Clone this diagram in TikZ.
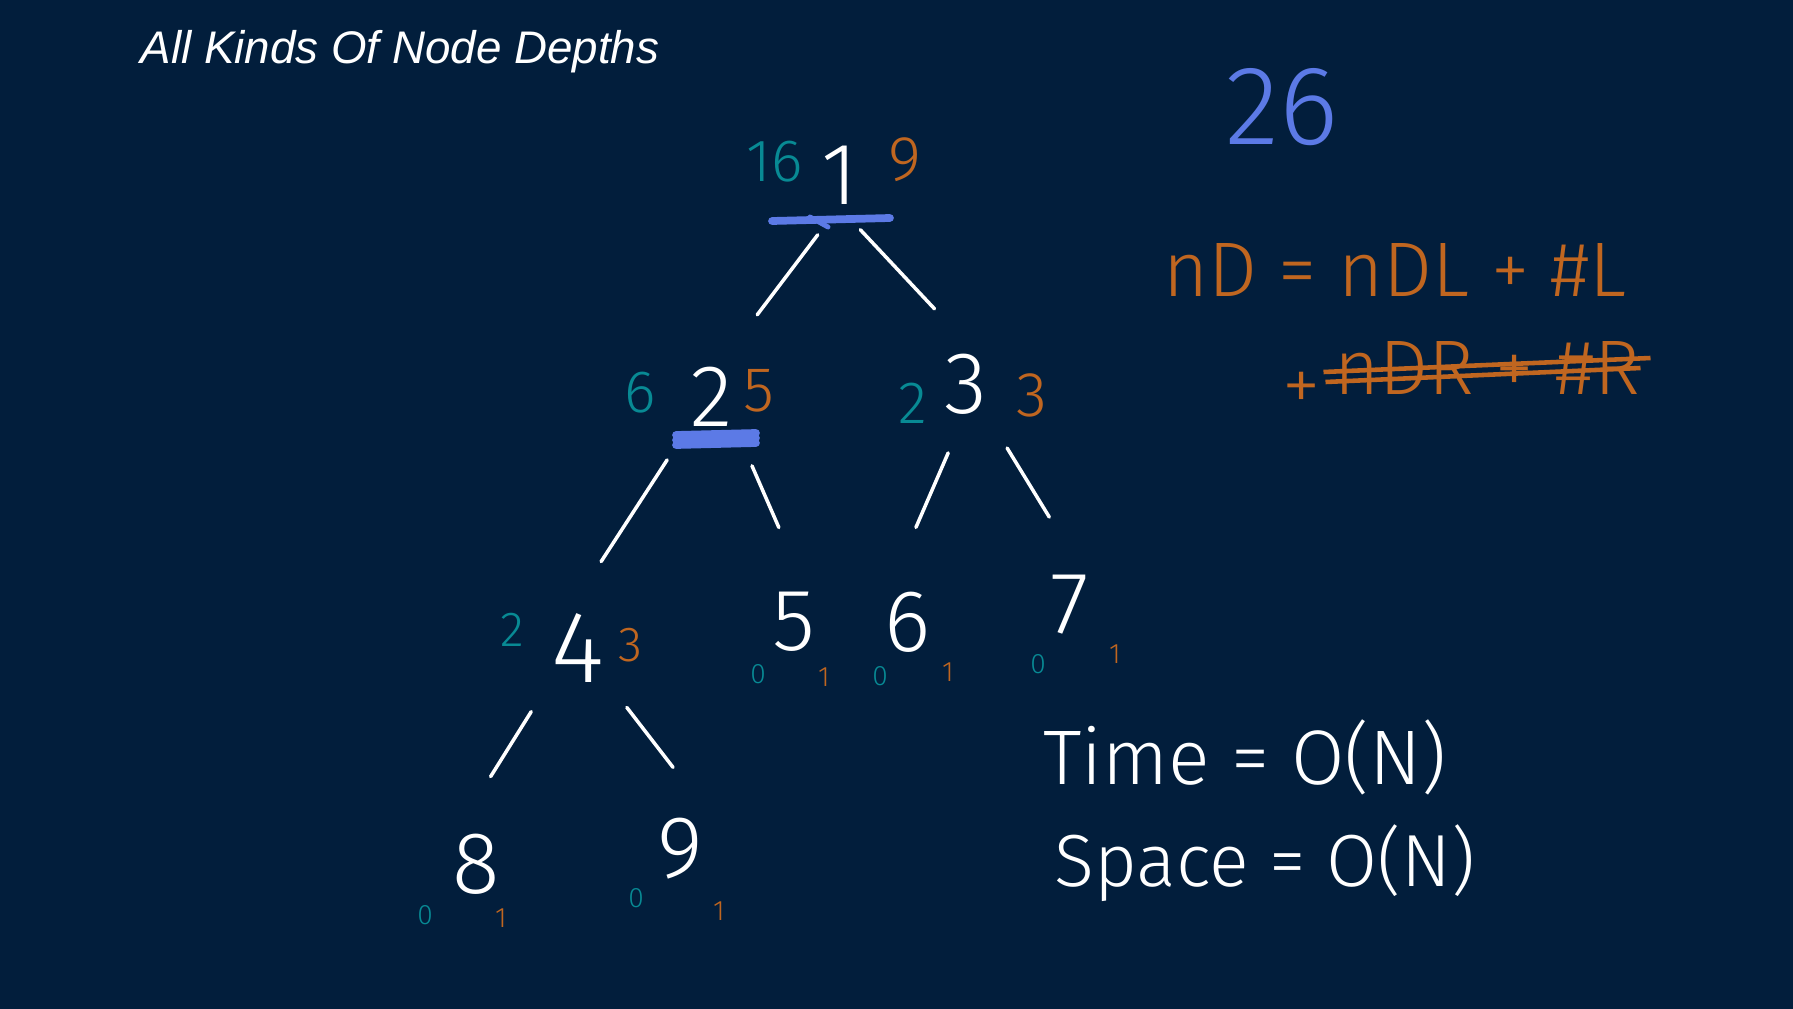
\documentclass[tikz,border=0pt]{standalone}
\usepackage{fontspec}
\setmainfont{Liberation Sans}
\newfontfamily\handfont{Fira Sans Light}
\usepackage{tikz}
\definecolor{board}{RGB}{2,30,60}
\definecolor{depthteal}{RGB}{8,138,148}
\definecolor{sumorange}{RGB}{192,102,32}
\definecolor{hiblue}{RGB}{92,122,230}
\newcommand{\handsize}[1]{\handfont\fontsize{#1}{#1}\selectfont}

\begin{document}
\begin{tikzpicture}[x=0.01cm, y=-0.01cm]
\tikzset{treenode/.style={text=white, font=\handsize{25}, inner sep=0pt},
 nodedepth/.style={text=depthteal, font=\handsize{17}, inner sep=0pt},
 subsum/.style={text=sumorange, font=\handsize{18}, inner sep=0pt},
 leafnum/.style={font=\handsize{8}, inner sep=0pt},
 branch/.style={draw=white, line width=1pt, line cap=round, shorten <=0.75cm, shorten >=1.03cm},
 hilite/.style={draw=hiblue, line width=2.2pt, line cap=round},
 notes/.style={font=\handsize{22}, inner sep=0pt}}
\useasboundingbox (0,0) rectangle (1793,1009);
\fill[board] (0,0) rectangle (1793,1009);
\node[anchor=base west, text=white, font=\itshape\fontsize{13}{13}\selectfont, inner sep=0pt] (title) at (140,64) {All Kinds Of Node Depths};
% the tree
\node[treenode] (n1) at (840,175) {1};
\node[treenode] (n2) at (712,397) {2};
\node[treenode] (n3) at (966,384) {3};
\node[treenode, font=\handsize{29}] (n4) at (578,648) {4};
\node[treenode] (n5) at (794,622) {5};
\node[treenode] (n6) at (908,622) {6};
\node[treenode] (n7) at (1070,605) {7};
\node[treenode] (n8) at (476,864) {8};
\node[treenode] (n9) at (680,849) {9};
% hand drawn branches splay a little: x offsets at parent / child
\foreach \a/\sx/\b/\tx in {n1/23/n2/-17, n1/-31/n3/39, n2/-4/n4/-33, n2/10/n5/26,
    n3/12/n6/-33, n3/2/n7/33, n4/-7/n8/-40, n4/3/n9/56}
  \draw[branch] ([shift={(\sx,0)}]\a.center) -- ([shift={(\tx,0)}]\b.center);
% depth sums left, node counts right
\node[nodedepth] (d1) at (775,162) {16};
\node[subsum] (s1) at (905,160) {9};
\node[nodedepth] (d2) at (640,393) {6};
\node[subsum] (s2) at (759,391) {5};
\node[nodedepth] (d3) at (913,403) {2};
\node[subsum] (s3) at (1032,395) {3};
\node[nodedepth, font=\handsize{14}] (d4) at (512,630) {2};
\node[subsum, font=\handsize{14}] (s4) at (630,645) {3};
\node[leafnum, text=depthteal] (d5) at (758,674) {0};
\node[leafnum, text=sumorange] (s5) at (824,677) {1};
\node[leafnum, text=depthteal] (d6) at (880,676) {0};
\node[leafnum, text=sumorange] (s6) at (948,672) {1};
\node[leafnum, text=depthteal] (d7) at (1038,664) {0};
\node[leafnum, text=sumorange] (s7) at (1115,654) {1};
\node[leafnum, text=depthteal] (d8) at (425,915) {0};
\node[leafnum, text=sumorange] (s8) at (501,918) {1};
\node[leafnum, text=depthteal] (d9) at (636,898) {0};
\node[leafnum, text=sumorange] (s9) at (719,911) {1};
\draw[hilite] ([shift={(-68,46)}]n1.center) -- ([shift={(50,43)}]n1.center);
\draw[hilite, line width=1.4pt] ([shift={(-30,42)}]n1.center) -- ([shift={(-12,52)}]n1.center);
\foreach \dy in {38,43,48}
  \draw[hilite] ([shift={(-36,\dy)}]n2.center) -- ([shift={(44,\dy-2)}]n2.center);
% notes on the right
\node[notes, text=hiblue, font=\handsize{32}] (total) at (1282,107) {26};
\node[notes, text=sumorange] (recur) at (1395,270) {nD = nDL + \#L};
\node[notes, text=sumorange] (plus) at (1302,392) {+};
\node[notes, text=sumorange] (struck) at (1487,368) {nDR + \#R};
\draw[sumorange, line width=1.3pt] ([shift={(-10,4)}]struck.west) -- ([shift={(10,-10)}]struck.east);
\draw[sumorange, line width=1.3pt] ([shift={(-8,14)}]struck.west) -- ([shift={(0,0)}]struck.east);
\node[notes, text=white] (time) at (1245,757) {Time = O(N)};
\node[notes, text=white, font=\handsize{21}] (space) at (1265,863) {Space = O(N)};
\end{tikzpicture}
\end{document}
